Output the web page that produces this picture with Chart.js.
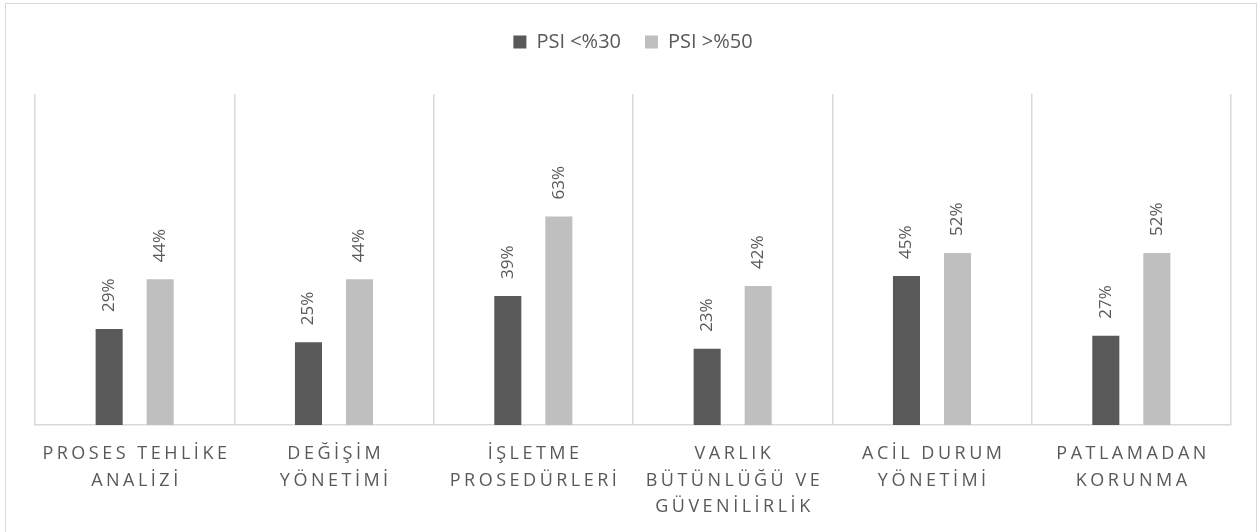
<!DOCTYPE html>
<html>
<head>
<meta charset="utf-8">
<script src="https://cdn.jsdelivr.net/npm/chart.js@4/dist/chart.umd.min.js"></script>
<style>
  html, body { margin: 0; padding: 0; background: #ffffff; }
  body { width: 1260px; height: 532px; position: relative; overflow: hidden; }
  #frame { position: absolute; left: 5px; top: 3px; width: 1252px; height: 540px; border: 1.5px solid #d9d9d9; box-sizing: border-box; }
  #c { position: absolute; left: 0; top: 0; }
</style>
</head>
<body>
<div id="frame"></div>
<canvas id="c" width="1260" height="532"></canvas>
<script>
// ---- data ----
const categories = [
  ["PROSES TEHLİKE", "ANALİZİ"],
  ["DEĞİŞİM", "YÖNETİMİ"],
  ["İŞLETME", "PROSEDÜRLERİ"],
  ["VARLIK", "BÜTÜNLÜĞÜ VE", "GÜVENİLİRLİK"],
  ["ACİL DURUM", "YÖNETİMİ"],
  ["PATLAMADAN", "KORUNMA"]
];
const seriesNames = ["PSI <%30", "PSI >%50"];
const psiBelow30 = [29, 25, 39, 23, 45, 27];
const psiAbove50 = [44, 44, 63, 42, 52, 52];
const yMin = 0;
const yMax = 100;

// ---- styles ----
const DARK = "#595959";
const LIGHT = "#bfbfbf";
const TEXT = "#595959";
const GRID = "#d9d9d9";
const FONT = "'Open Sans', 'DejaVu Sans', sans-serif";
const LETTER_SPACING = 3.5;

const letterSpacingPlugin = {
  id: "xLetterSpacing",
  beforeDraw(chart) {
    const s = chart.scales.x;
    if (s && !s._lsPatched) {
      const orig = s.drawLabels;
      s.drawLabels = function (area) {
        const ctx = this.ctx;
        ctx.save();
        ctx.letterSpacing = LETTER_SPACING + "px";
        ctx.translate(LETTER_SPACING / 2, 0);
        orig.call(this, area);
        ctx.restore();
      };
      s._lsPatched = true;
    }
  }
};

const valueLabelPlugin = {
  id: "valueLabels",
  afterDatasetsDraw(chart) {
    const ctx = chart.ctx;
    ctx.save();
    ctx.font = "17px " + FONT;
    ctx.fillStyle = TEXT;
    ctx.textAlign = "left";
    ctx.textBaseline = "middle";
    chart.data.datasets.forEach((ds, di) => {
      const meta = chart.getDatasetMeta(di);
      meta.data.forEach((bar, i) => {
        ctx.save();
        ctx.translate(bar.x, bar.y - 17);
        ctx.rotate(-Math.PI / 2);
        ctx.fillText(ds.data[i] + "%", 0, 0);
        ctx.restore();
      });
    });
    ctx.restore();
  }
};

new Chart(document.getElementById("c"), {
  type: "bar",
  data: {
    labels: categories,
    datasets: [
      { label: seriesNames[0], data: psiBelow30, backgroundColor: DARK, borderWidth: 0 },
      { label: seriesNames[1], data: psiAbove50, backgroundColor: LIGHT, borderWidth: 0 }
    ]
  },
  options: {
    responsive: false,
    animation: false,
    devicePixelRatio: 1,
    categoryPercentage: 0.512,
    barPercentage: 0.53,
    layout: { padding: { left: 35, right: 29, top: 8, bottom: 0 } },
    plugins: {
      legend: {
        position: "top",
        align: "center",
        labels: {
          font: { family: FONT, size: 20 },
          color: TEXT,
          boxWidth: 13,
          boxHeight: 13,
          padding: 24
        }
      },
      tooltip: { enabled: false }
    },
    scales: {
      x: {
        grid: { display: true, color: GRID, lineWidth: 1.5, drawTicks: false, offset: true },
        border: { display: true, color: GRID, width: 1.5 },
        ticks: {
          color: TEXT,
          font: { family: FONT, size: 18, lineHeight: 1.47 },
          padding: 16,
          maxRotation: 0,
          minRotation: 0,
          autoSkip: false
        },
        afterFit(scale) { scale.height = 107; }
      },
      xTop: {
        type: "category",
        position: "top",
        display: true,
        grid: { display: false, drawTicks: false },
        border: { display: false },
        ticks: { display: false },
        afterFit(scale) { scale.height = 32; }
      },
      y: {
        display: false,
        min: yMin,
        max: yMax
      }
    }
  },
  plugins: [letterSpacingPlugin, valueLabelPlugin]
});
</script>
</body>
</html>
